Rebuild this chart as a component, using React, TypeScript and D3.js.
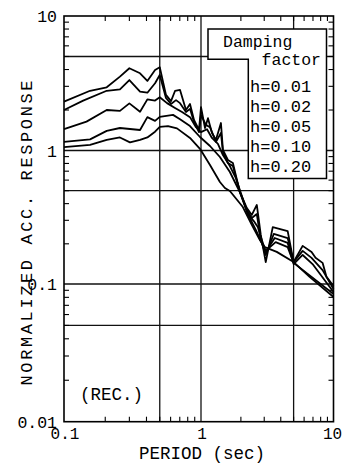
import React from 'react';
import * as d3 from 'd3';

// response spectra, [period (sec), normalized acc. response]
const h001: [number, number][] = [
  [0.1, 2.31], [0.155, 2.78], [0.205, 2.95], [0.256, 3.54], [0.3, 4.09], [0.359, 3.75],
  [0.406, 3.29], [0.462, 3.97], [0.5, 4.16], [0.555, 2.59], [0.604, 2.33], [0.646, 2.77],
  [0.703, 2.82], [0.777, 2.0], [0.831, 2.22], [0.889, 1.69], [0.967, 1.42], [1.0, 2.1],
  [1.072, 1.47], [1.129, 1.74], [1.21, 1.35], [1.297, 1.2], [1.414, 1.6], [1.464, 1.01],
  [1.596, 0.849], [1.74, 0.806], [1.964, 0.489], [2.218, 0.371], [2.418, 0.329], [2.637, 0.391],
  [2.826, 0.233], [3.08, 0.146], [3.48, 0.267], [4.51, 0.249], [5.0, 0.146], [5.85, 0.193],
  [6.83, 0.174], [7.32, 0.157], [8.27, 0.144], [8.86, 0.113], [10, 0.0967],
];
const h002: [number, number][] = [
  [0.1, 2.0], [0.138, 2.35], [0.205, 2.78], [0.256, 2.85], [0.3, 3.34], [0.359, 2.74],
  [0.406, 2.69], [0.462, 3.16], [0.5, 3.64], [0.555, 2.46], [0.604, 2.22], [0.657, 2.37],
  [0.703, 2.25], [0.777, 1.93], [0.831, 2.04], [0.889, 1.63], [0.967, 1.37], [1.0, 1.83],
  [1.09, 1.55], [1.169, 1.49], [1.297, 1.16], [1.414, 1.35], [1.464, 0.974], [1.596, 0.806],
  [1.74, 0.765], [1.964, 0.489], [2.218, 0.358], [2.418, 0.312], [2.637, 0.334], [2.826, 0.214],
  [3.08, 0.165], [3.54, 0.237], [4.51, 0.221], [5.0, 0.146], [5.85, 0.177], [6.83, 0.157],
  [8.27, 0.127], [10, 0.092],
];
const h005: [number, number][] = [
  [0.1, 1.44], [0.146, 1.64], [0.205, 2.0], [0.256, 1.97], [0.3, 2.24], [0.359, 1.94],
  [0.406, 2.4], [0.462, 2.35], [0.5, 2.49], [0.565, 2.25], [0.646, 2.07], [0.727, 1.93],
  [0.831, 1.77], [0.919, 1.49], [1.0, 1.37], [1.11, 1.44], [1.21, 1.24], [1.342, 1.12],
  [1.464, 0.925], [1.652, 0.765], [1.833, 0.622], [2.034, 0.456], [2.256, 0.334], [2.503, 0.296],
  [2.683, 0.267], [2.875, 0.214], [3.08, 0.174], [3.6, 0.221], [4.51, 0.203], [5.0, 0.141],
  [5.85, 0.165], [6.95, 0.141], [10, 0.0875],
];
const h010: [number, number][] = [
  [0.1, 1.16], [0.155, 1.21], [0.205, 1.4], [0.256, 1.47], [0.359, 1.42], [0.406, 1.77],
  [0.462, 1.66], [0.5, 1.78], [0.625, 1.84], [0.703, 1.71], [0.831, 1.52], [0.983, 1.26],
  [1.169, 1.08], [1.389, 0.894], [1.652, 0.69], [1.964, 0.489], [2.256, 0.334], [2.592, 0.254],
  [2.875, 0.203], [3.08, 0.177], [3.66, 0.206], [4.51, 0.189], [5.0, 0.144], [10, 0.0846],
];
const h020: [number, number][] = [
  [0.1, 1.06], [0.155, 1.1], [0.205, 1.2], [0.256, 1.25], [0.303, 1.15], [0.359, 1.2],
  [0.406, 1.25], [0.462, 1.38], [0.5, 1.5], [0.574, 1.52], [0.668, 1.46], [0.831, 1.24],
  [0.983, 1.03], [1.169, 0.779], [1.389, 0.581], [1.515, 0.524], [1.652, 0.497], [2.07, 0.377],
  [2.418, 0.277], [2.777, 0.214], [3.03, 0.189], [3.73, 0.174], [5.0, 0.146], [6.6, 0.113],
  [10, 0.0805],
];

const series = [h001, h002, h005, h010, h020];
const legendLabels = ['h=0.01', 'h=0.02', 'h=0.05', 'h=0.10', 'h=0.20'];

const xTicks = [0.1, 1, 10];
const xTickLabels = ['0.1', '1', '10'];
const yTicks = [10, 1, 0.1, 0.01];
const yTickLabels = ['10', '1', '0.1', '0.01'];
const xGrid = [0.5, 1, 5];
const yGrid = [5, 1, 0.5, 0.1, 0.05];
const mantissas = [2, 3, 4, 5, 6, 7, 8, 9];

const FONT = '"Liberation Mono", "DejaVu Sans Mono", monospace';

export default function App() {
  // the printed axes are a little uneven, so the log scales are piecewise
  const x = d3.scaleLog().domain([0.1, 1, 10]).range([64, 201, 333.5]);
  const y = d3.scaleLog().domain([10, 1, 0.1, 0.01]).range([16, 150.5, 284, 421.7]);
  const [x0, x1] = [x(0.1), x(10)];
  const [y0, y1] = [y(10), y(0.01)];

  const line = d3.line<[number, number]>()
    .x(d => x(d[0]))
    .y(d => y(d[1]));

  const xMinor = [0.1, 1].flatMap(k => mantissas.map(m => m * k));
  const yMinor = [0.01, 0.1, 1].flatMap(k => mantissas.map(m => m * k));
  const tl = 5;

  return (
    <svg width={344} height={464} style={{ position: 'absolute', left: 0, top: 0, background: '#fff' }}
      fontFamily={FONT}>
      {xGrid.map(v => (
        <line key={'gx' + v} x1={x(v)} x2={x(v)} y1={y0} y2={y1} stroke="#111" strokeWidth={1.3} />
      ))}
      {yGrid.map(v => (
        <line key={'gy' + v} x1={x0} x2={x1} y1={y(v)} y2={y(v)} stroke="#111" strokeWidth={1.3} />
      ))}

      {series.map((s, i) => (
        <path key={i} d={line(s) || ''} fill="none" stroke="#000" strokeWidth={1.8}
          strokeLinejoin="round" />
      ))}

      {/* legend box */}
      <path d="M208,29 H326.5 V178.5 H248.3 V59.3 H208 Z" fill="#fff" stroke="#000" strokeWidth={1.5} />
      <text x={223} y={47} fontSize={16.5}>Damping</text>
      <text x={321} y={65} fontSize={16.5} textAnchor="end">factor</text>
      {legendLabels.map((l, i) => (
        <text key={l} x={250} y={92 + i * 20} fontSize={17}>{l}</text>
      ))}

      <rect x={x0} y={y0} width={x1 - x0} height={y1 - y0} fill="none" stroke="#000" strokeWidth={1.6} />

      {xMinor.map(v => (
        <g key={'tx' + v} stroke="#000" strokeWidth={1.1}>
          <line x1={x(v)} x2={x(v)} y1={y1} y2={y1 - tl} />
          <line x1={x(v)} x2={x(v)} y1={y0} y2={y0 + tl} />
        </g>
      ))}
      {yMinor.map(v => (
        <g key={'ty' + v} stroke="#000" strokeWidth={1.1}>
          <line x1={x0} x2={x0 + tl} y1={y(v)} y2={y(v)} />
          <line x1={x1} x2={x1 - tl} y1={y(v)} y2={y(v)} />
        </g>
      ))}

      {yTicks.map((v, i) => (
        <text key={'ly' + v} x={57} y={y(v) + 6} fontSize={16.5} textAnchor="end">{yTickLabels[i]}</text>
      ))}
      {xTicks.map((v, i) => (
        <text key={'lx' + v} x={x(v) + (i === 2 ? -1 : 1)} y={439} fontSize={16} textAnchor="middle">
          {xTickLabels[i]}
        </text>
      ))}

      <text x={202} y={459} fontSize={17.5} textAnchor="middle">PERIOD (sec)</text>
      <text transform="translate(31.5,233) rotate(-90)" fontSize={17} textAnchor="middle"
        textLength={305} lengthAdjust="spacing">NORMALIZED ACC. RESPONSE</text>
      <text x={80} y={400} fontSize={17.5}>(REC.)</text>
    </svg>
  );
}
